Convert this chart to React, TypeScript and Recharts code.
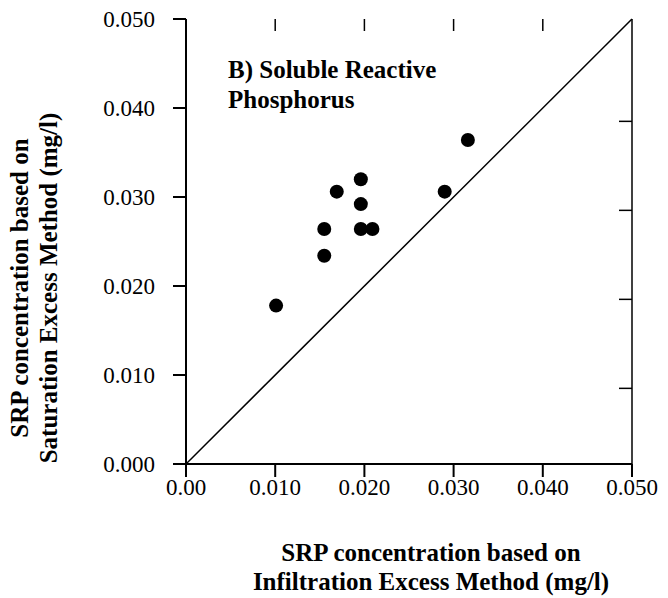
import React from "react";
import { ScatterChart, Scatter, XAxis, YAxis, ReferenceLine } from "recharts";

// axis ticks and labels
const xTicks = [0, 0.01, 0.02, 0.03, 0.04, 0.05];
const xTickLabels = ["0.00", "0.010", "0.020", "0.030", "0.040", "0.050"];
const yTicks = [0, 0.01, 0.02, 0.03, 0.04, 0.05];
const yTickLabels = ["0.000", "0.010", "0.020", "0.030", "0.040", "0.050"];
const topTicks = [0.01, 0.02, 0.03, 0.04];
const rightTicks = [0.0085, 0.0185, 0.0285, 0.0385];

// SRP values (mg/l)
const infiltration = [0.0101, 0.0155, 0.0155, 0.0169, 0.0196, 0.0196, 0.0196, 0.0209, 0.029, 0.0316];
const saturation = [0.0178, 0.0234, 0.0264, 0.0306, 0.032, 0.0292, 0.0264, 0.0264, 0.0306, 0.0364];

const points = infiltration.map((x, i) => ({ x, y: saturation[i] }));
// frame corners, only so the top/right axes get a domain
const frame = [{ x: 0, y: 0 }, { x: 0.05, y: 0.05 }];

const serif = "'Liberation Serif', 'Times New Roman', serif";

const Dot = (props: any) => <circle cx={props.cx} cy={props.cy} r={7} fill="#000" />;
const Nothing = () => <g />;
// short inward tick hanging from the top frame
const TopTick = (p: any) => {
  const top = Math.min(p.y1, p.y2);
  return <line x1={p.x1} x2={p.x1} y1={top} y2={top + 12} stroke="#000" strokeWidth={1.5} />;
};

const App: React.FC = () => {
  const tickStyle = { fill: "#000", fontSize: 23, fontFamily: serif };
  const titleStyle: React.CSSProperties = {
    position: "absolute",
    fontFamily: serif,
    fontWeight: 700,
    fontSize: 25,
    color: "#000",
    whiteSpace: "nowrap",
  };
  return (
    <div style={{ position: "absolute", left: 0, top: 0, width: 668, height: 598, background: "#fff" }}>
      <ScatterChart width={668} height={598} margin={{ top: 19, right: 36, bottom: 94, left: 116 }}>
        <XAxis
          xAxisId="bottom"
          dataKey="x"
          type="number"
          domain={[0, 0.05]}
          ticks={xTicks}
          interval={0}
          height={40}
          tickSize={13}
          tickMargin={2}
          tickFormatter={(v: number) => xTickLabels[xTicks.indexOf(v)] ?? ""}
          tick={tickStyle}
          stroke="#000"
          strokeWidth={2}
        />
        <XAxis
          xAxisId="top"
          dataKey="x"
          orientation="top"
          type="number"
          domain={[0, 0.05]}
          ticks={topTicks}
          interval={0}
          mirror
          height={0}
          tick={Nothing}
          tickSize={12}
          stroke="#000"
          strokeWidth={2}
        />
        <YAxis
          yAxisId="left"
          dataKey="y"
          type="number"
          domain={[0, 0.05]}
          ticks={yTicks}
          interval={0}
          width={70}
          tickSize={13}
          tickMargin={18}
          tickFormatter={(v: number) => yTickLabels[yTicks.indexOf(v)] ?? ""}
          tick={tickStyle}
          stroke="#000"
          strokeWidth={2}
        />
        <YAxis
          yAxisId="right"
          dataKey="y"
          orientation="right"
          type="number"
          domain={[0, 0.05]}
          ticks={rightTicks}
          interval={0}
          mirror
          tick={Nothing}
          tickSize={13}
          stroke="#000"
          strokeWidth={1.5}
        />
        {/* inward ticks on the top frame */}
        <ReferenceLine xAxisId="bottom" yAxisId="left" x={topTicks[0]} shape={TopTick} />
        <ReferenceLine xAxisId="bottom" yAxisId="left" x={topTicks[1]} shape={TopTick} />
        <ReferenceLine xAxisId="bottom" yAxisId="left" x={topTicks[2]} shape={TopTick} />
        <ReferenceLine xAxisId="bottom" yAxisId="left" x={topTicks[3]} shape={TopTick} />
        {/* 1:1 line */}
        <ReferenceLine
          xAxisId="bottom"
          yAxisId="left"
          segment={[{ x: 0, y: 0 }, { x: 0.05, y: 0.05 }]}
          stroke="#000"
          strokeWidth={1.5}
        />
        <Scatter
          xAxisId="top"
          yAxisId="right"
          data={frame}
          shape={Nothing}
          isAnimationActive={false}
        />
        <Scatter
          xAxisId="bottom"
          yAxisId="left"
          data={points}
          shape={Dot}
          isAnimationActive={false}
        />
      </ScatterChart>

      {/* annotation */}
      <div style={{ ...titleStyle, left: 228, top: 55, lineHeight: "30px" }}>
        B) Soluble Reactive
        <br />
        Phosphorus
      </div>

      {/* x axis title */}
      <div style={{ ...titleStyle, left: 231, width: 400, top: 538, textAlign: "center", lineHeight: "29px" }}>
        SRP concentration based on
        <br />
        Infiltration Excess Method (mg/l)
      </div>

      {/* y axis title */}
      <div
        style={{
          ...titleStyle,
          left: 34 - 200,
          top: 288 - 29,
          width: 400,
          height: 58,
          transform: "rotate(-90deg)",
          textAlign: "center",
          lineHeight: "29px",
        }}
      >
        SRP concentration based on
        <br />
        Saturation Excess Method (mg/l)
      </div>
    </div>
  );
};

export default App;
